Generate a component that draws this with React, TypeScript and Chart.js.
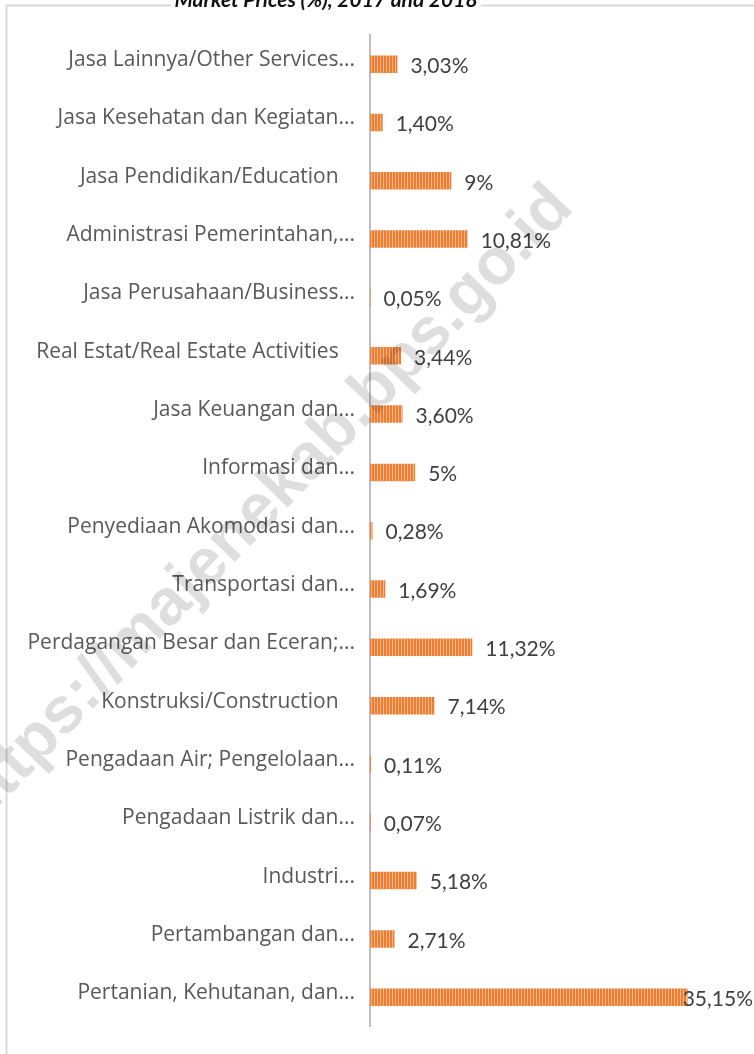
import React, { useEffect, useRef } from 'react';
import { Chart, registerables } from 'chart.js';

Chart.register(...registerables);

const categories = [
  'Jasa Lainnya/Other Services...',
  'Jasa Kesehatan dan Kegiatan...',
  'Jasa Pendidikan/Education   ',
  'Administrasi Pemerintahan,...',
  'Jasa Perusahaan/Business...',
  'Real Estat/Real Estate Activities   ',
  'Jasa Keuangan dan...',
  'Informasi dan...',
  'Penyediaan Akomodasi dan...',
  'Transportasi dan...',
  'Perdagangan Besar dan Eceran;...',
  'Konstruksi/Construction   ',
  'Pengadaan Air; Pengelolaan...',
  'Pengadaan Listrik dan...',
  'Industri...',
  'Pertambangan dan...',
  'Pertanian, Kehutanan, dan...',
];

const shares = [3.03, 1.4, 9, 10.81, 0.05, 3.44, 3.6, 5, 0.28, 1.69, 11.32, 7.14, 0.11, 0.07, 5.18, 2.71, 35.15];

const shareLabels = [
  '3,03%', '1,40%', '9%', '10,81%', '0,05%', '3,44%', '3,60%', '5%', '0,28%',
  '1,69%', '11,32%', '7,14%', '0,11%', '0,07%', '5,18%', '2,71%', '35,15%',
];

const titleText = 'Market Prices (%), 2017 and 2018';
const watermarkText = 'https://majenekab.bps.go.id';

function makePattern(): CanvasPattern | string {
  const c = document.createElement('canvas');
  c.width = 3;
  c.height = 1;
  const g = c.getContext('2d');
  if (!g) return '#ED7D31';
  g.fillStyle = '#ED7D31';
  g.fillRect(0, 0, 2, 1);
  g.fillStyle = '#F6B68A';
  g.fillRect(2, 0, 1, 1);
  const p = g.createPattern(c, 'repeat');
  return p || '#ED7D31';
}

const decorPlugin = {
  id: 'decor',
  beforeDraw(chart: any) {
    const ctx = chart.ctx as CanvasRenderingContext2D;
    const W = chart.width;
    const H = chart.height;
    ctx.save();
    ctx.fillStyle = '#ffffff';
    ctx.fillRect(0, 0, W, H);
    // frame
    ctx.strokeStyle = '#d9d9d9';
    ctx.lineWidth = 2;
    ctx.beginPath();
    ctx.moveTo(6.5, H);
    ctx.lineTo(6.5, 5.5);
    ctx.lineTo(W, 5.5);
    ctx.stroke();
    // title (clipped at top)
    ctx.font = 'italic bold 21px Lato';
    const tw = ctx.measureText(titleText).width;
    const cx = 326;
    ctx.fillStyle = '#ffffff';
    ctx.fillRect(cx - tw / 2 - 3, 0, tw + 6, 9);
    ctx.fillStyle = '#111111';
    ctx.textAlign = 'center';
    ctx.textBaseline = 'alphabetic';
    ctx.fillText(titleText, cx, 7);
    ctx.restore();
  },
  afterDatasetsDraw(chart: any) {
    const ctx = chart.ctx as CanvasRenderingContext2D;
    const meta = chart.getDatasetMeta(0);
    ctx.save();
    ctx.font = '21px Lato';
    ctx.fillStyle = '#404040';
    ctx.textAlign = 'left';
    ctx.textBaseline = 'middle';
    meta.data.forEach((bar: any, i: number) => {
      const txt = shareLabels[i];
      const w = ctx.measureText(txt).width;
      let x = bar.x + 13;
      if (x + w > chart.width - 1) x = chart.width - 1 - w;
      ctx.fillText(txt, x, bar.y + 2);
    });
    ctx.restore();
  },
  afterDraw(chart: any) {
    const ctx = chart.ctx as CanvasRenderingContext2D;
    ctx.save();
    ctx.translate(264, 506);
    ctx.rotate((-46 * Math.PI) / 180);
    ctx.font = 'bold 65px "Liberation Sans"';
    ctx.fillStyle = 'rgba(0,0,0,0.13)';
    ctx.textAlign = 'center';
    ctx.textBaseline = 'middle';
    ctx.fillText(watermarkText, 0, 0);
    ctx.restore();
  },
};

export default function App() {
  const ref = useRef<HTMLCanvasElement | null>(null);

  useEffect(() => {
    const canvas = ref.current;
    if (!canvas) return;
    const chart = new Chart(canvas, {
      type: 'bar',
      data: {
        labels: categories,
        datasets: [
          {
            data: shares,
            backgroundColor: makePattern() as any,
            borderWidth: 0,
            barPercentage: 0.3,
            categoryPercentage: 1,
          },
        ],
      },
      options: {
        responsive: false,
        animation: false,
        indexAxis: 'y',
        layout: { padding: { top: 35, bottom: 25, left: 0, right: 0 } },
        plugins: {
          legend: { display: false },
          title: { display: false },
          tooltip: { enabled: false },
        },
        scales: {
          x: { display: false, min: 0, max: 42.5 },
          y: {
            afterFit: (s: any) => {
              s.width = 370;
            },
            grid: { color: 'rgba(0,0,0,0)', drawTicks: false },
            border: { display: true, color: '#bfbfbf', width: 2 },
            ticks: {
              autoSkip: false,
              padding: 15,
              labelOffset: -4,
              color: '#595959',
              font: { family: '"Open Sans"', size: 21 },
            },
          },
        },
      },
      plugins: [decorPlugin],
    });
    return () => chart.destroy();
  }, []);

  return (
    <div style={{ position: 'absolute', left: 0, top: 0, width: 754, height: 1054 }}>
      <canvas ref={ref} width={754} height={1054} style={{ display: 'block' }} />
    </div>
  );
}
